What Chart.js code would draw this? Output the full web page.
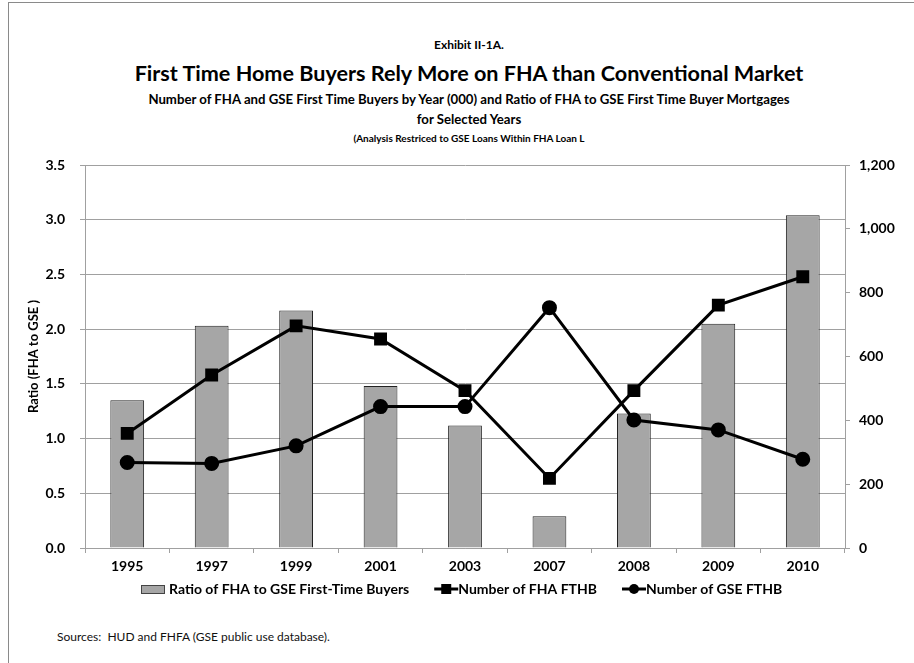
<!DOCTYPE html>
<html>
<head>
<meta charset="utf-8">
<script src="https://cdn.jsdelivr.net/npm/chart.js@4.4.1/dist/chart.umd.min.js"></script>
<style>
  body { margin: 0; background: #fff; }
  #wrap { position: relative; width: 914px; height: 663px; overflow: hidden; font-family: Lato, "Liberation Sans", sans-serif; }
  #frame { position: absolute; left: 8px; top: 2px; width: 1000px; height: 1000px; border-left: 1px solid #8a8a8a; border-top: 1px solid #8a8a8a; }
  .t { position: absolute; left: 12px; width: 914px; text-align: center; font-weight: bold; color: #000; white-space: nowrap; }
  #src { position: absolute; left: 57px; top: 629px; font-size: 12px; color: #111; }
  canvas { position: absolute; left: 0; top: 0; }
</style>
</head>
<body>
<div id="wrap">
  <div id="frame"></div>
  <div class="t" style="top:37px;font-size:12px;">Exhibit II-1A.</div>
  <div class="t" style="top:60px;font-size:21.6px;">First Time Home Buyers Rely More on FHA than Conventional Market</div>
  <div class="t" style="top:91px;font-size:13.2px;">Number of FHA and GSE First Time Buyers by Year (000) and Ratio of FHA to GSE First Time Buyer Mortgages</div>
  <div class="t" style="top:111px;font-size:13.2px;">for Selected Years</div>
  <div class="t" style="top:132px;font-size:10px;">(Analysis Restriced to GSE Loans Within FHA Loan L</div>
  <div id="src">Sources:&nbsp; HUD and FHFA (GSE public use database).</div>
  <canvas id="grafico" width="914" height="663"></canvas>
</div>
<script>
// dados
const anos = ['1995', '1997', '1999', '2001', '2003', '2007', '2008', '2009', '2010'];
const razaoFhaGse = [1.35, 2.03, 2.17, 1.48, 1.12, 0.29, 1.23, 2.05, 3.04];
const compradoresFha = [359, 542, 696, 655, 493, 218, 493, 761, 850];
const compradoresGse = [268, 265, 320, 443, 443, 753, 401, 370, 278];

const familia = 'Lato, "Liberation Sans", sans-serif';
const fonteEixo = { family: familia, size: 14, weight: 'bold' };
const corGrade = '#a0a0a0';

// legenda desenhada à mão (linha + marcador como no Excel)
const legendaPlugin = {
    id: 'legendaExcel',
    afterDraw(chart) {
        const ctx = chart.ctx;
        ctx.save();
        ctx.font = 'bold 14px ' + familia;
        ctx.textBaseline = 'middle';
        const y = 589;
        let x = 141;
        chart.data.datasets.forEach((ds) => {
            if (ds.type === 'bar') {
                ctx.fillStyle = ds.backgroundColor;
                ctx.fillRect(x, y - 4, 24, 9);
                ctx.strokeStyle = '#444';
                ctx.lineWidth = 1;
                ctx.strokeRect(x + 0.5, y - 3.5, 23, 8);
                x += 28;
            } else {
                ctx.strokeStyle = '#000';
                ctx.lineWidth = 3;
                ctx.beginPath();
                ctx.moveTo(x, y);
                ctx.lineTo(x + 24, y);
                ctx.stroke();
                ctx.fillStyle = '#000';
                if (ds.pointStyle === 'rect') {
                    ctx.fillRect(x + 7, y - 5, 10, 10);
                } else {
                    ctx.beginPath();
                    ctx.arc(x + 12, y, 5, 0, Math.PI * 2);
                    ctx.fill();
                }
                x += 24;
            }
            ctx.fillStyle = '#000';
            ctx.fillText(ds.label, x, y);
            x += ctx.measureText(ds.label).width + 25;
        });
        ctx.restore();
    }
};

const ctx = document.getElementById('grafico').getContext('2d');
const grafico = new Chart(ctx, {
    data: {
        labels: anos,
        datasets: [
            {
                type: 'bar',
                label: 'Ratio of FHA to GSE First-Time Buyers',
                data: razaoFhaGse,
                yAxisID: 'y',
                backgroundColor: '#a6a6a6',
                borderColor: '#222',
                borderWidth: 1,
                categoryPercentage: 1.0,
                barPercentage: 0.4,
                order: 2
            },
            {
                type: 'line',
                label: 'Number of FHA FTHB',
                data: compradoresFha,
                yAxisID: 'y1',
                borderColor: '#000',
                backgroundColor: '#000',
                borderWidth: 3,
                pointStyle: 'rect',
                pointRadius: 7,
                tension: 0,
                order: 1
            },
            {
                type: 'line',
                label: 'Number of GSE FTHB',
                data: compradoresGse,
                yAxisID: 'y1',
                borderColor: '#000',
                backgroundColor: '#000',
                borderWidth: 3,
                pointStyle: 'circle',
                pointRadius: 6,
                tension: 0,
                order: 1
            }
        ]
    },
    options: {
        responsive: false,
        animation: false,
        layout: { padding: { top: 165, bottom: 80, left: 0, right: 0 } },
        plugins: {
            legend: { display: false },
            tooltip: { enabled: false }
        },
        scales: {
            x: {
                offset: true,
                grid: { offset: true, drawOnChartArea: false, tickLength: 5, color: corGrade },
                border: { color: corGrade },
                ticks: { color: '#000', font: fonteEixo, padding: 5, maxRotation: 0 },
                afterFit(scale) { scale.height = 35; }
            },
            y: {
                position: 'left',
                min: 0,
                max: 3.5,
                ticks: { stepSize: 0.5, color: '#000', font: fonteEixo, padding: 15, callback: v => v.toFixed(1) },
                grid: { color: corGrade, tickLength: 5 },
                border: { color: corGrade },
                title: {
                    display: true,
                    text: 'Ratio (FHA to GSE )',
                    color: '#000',
                    font: { family: familia, size: 13, weight: 'bold' },
                    padding: { top: 26, bottom: 0 }
                },
                afterFit(scale) { scale.width = 85; }
            },
            y1: {
                position: 'right',
                min: 0,
                max: 1200,
                ticks: { stepSize: 200, color: '#000', font: fonteEixo, padding: 9 },
                grid: { drawOnChartArea: false, color: corGrade, tickLength: 5 },
                border: { color: corGrade },
                afterFit(scale) { scale.width = 69; }
            }
        }
    },
    plugins: [legendaPlugin]
});
</script>
</body>
</html>
